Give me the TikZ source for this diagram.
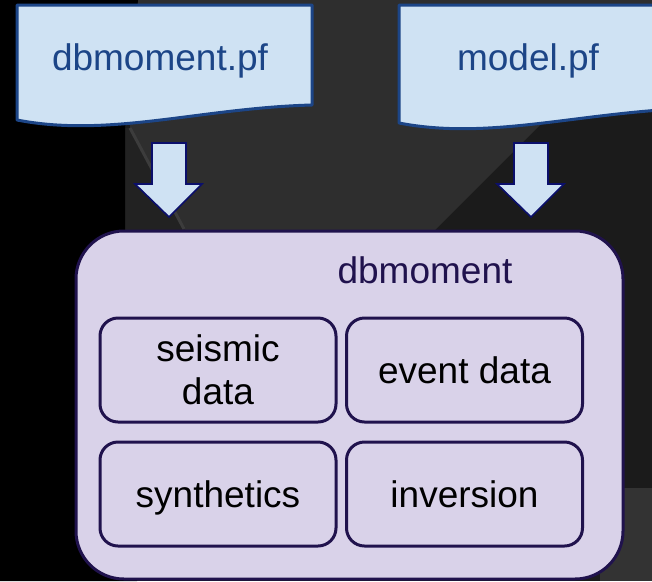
\documentclass[tikz,border=0pt]{standalone}
\usepackage{fontspec}
\setmainfont{Liberation Sans}
\definecolor{bgdark}{HTML}{1B1B1B}
\definecolor{bggray}{HTML}{2E2E2E}
\definecolor{bgstrip}{HTML}{222222}
\definecolor{bgline}{HTML}{3C3C3C}
\definecolor{bglight}{HTML}{333333}
\definecolor{docfill}{HTML}{CFE2F3}
\definecolor{docline}{HTML}{1C4587}
\definecolor{arrline}{HTML}{0B0F6B}
\definecolor{boxfill}{HTML}{D9D2E9}
\definecolor{boxline}{HTML}{20124D}
\begin{document}
\begin{tikzpicture}[x=1pt,y=-1pt,
  bigfont/.style={font=\fontsize{37}{43}\selectfont},
  docshape/.style={fill=docfill,draw=docline,line width=3pt,line join=round},
  doctext/.style={bigfont,text=docline,anchor=base,inner sep=0pt},
  blockarrow/.style={fill=docfill,draw=arrline,line width=1.6pt,line join=miter},
  mainbox/.style={fill=boxfill,draw=boxline,line width=3pt,rounded corners=48pt},
  subbox/.style={draw=boxline,line width=3pt,rounded corners=18pt,minimum width=236pt,minimum height=104pt,bigfont,text=black,inner sep=0pt,align=center},
  oneline/.style={text height=26pt,text depth=0pt}]
\useasboundingbox (0,0) rectangle (652,581);
\clip (0,0) rectangle (652,581);
% background
\fill[bgdark] (0,0) rectangle (652,581);
\fill[bggray] (138,0) -- (652,0) -- (652,13) -- (434,231) -- (185,231) -- (130,128) -- cycle;
\fill[bgstrip] (125,128) -- (130,128) -- (185,231) -- (125,231) -- cycle;
\fill[black] (0,0) -- (138,0) -- (125,128) -- (125,231) -- (137,231) -- (137,581) -- (0,581) -- cycle;
\draw[bgline,line width=3pt] (130,128) -- (184,229);
\fill[bglight] (600,488) rectangle (652,581);
% documents
\draw[docshape] (17,5) -- (312,5) -- (312,105) .. controls (200,108) and (110,138) .. (17,120) -- cycle;
\node[doctext] (doc1) at (160,70) {dbmoment.pf};
\draw[docshape] (399,5) -- (700,5) -- (700,108) .. controls (582,111) and (492,141) .. (399,123) -- cycle;
\node[doctext] (doc2) at (528,70) {model.pf};
% block arrows
\draw[blockarrow] (152,143) -- (186,143) -- (186,184) -- (202,184) -- (169,217) -- (135,184) -- (152,184) -- cycle;
\draw[blockarrow] (514,143) -- (548,143) -- (548,184) -- (564,184) -- (531,217) -- (497,184) -- (514,184) -- cycle;
% main box
\draw[mainbox] (76,231) rectangle (623,579);
\node[bigfont,text=boxline,anchor=base,inner sep=0pt] (title) at (425,283) {dbmoment};
% inner boxes
\node[subbox] (seis) at (218,370) {seismic\\data};
\node[subbox,oneline] (event) at (464.5,370) {event data};
\node[subbox,oneline] (synth) at (218,494) {synthetics};
\node[subbox,oneline] (inv) at (464.5,494) {inversion};
\end{tikzpicture}
\end{document}
